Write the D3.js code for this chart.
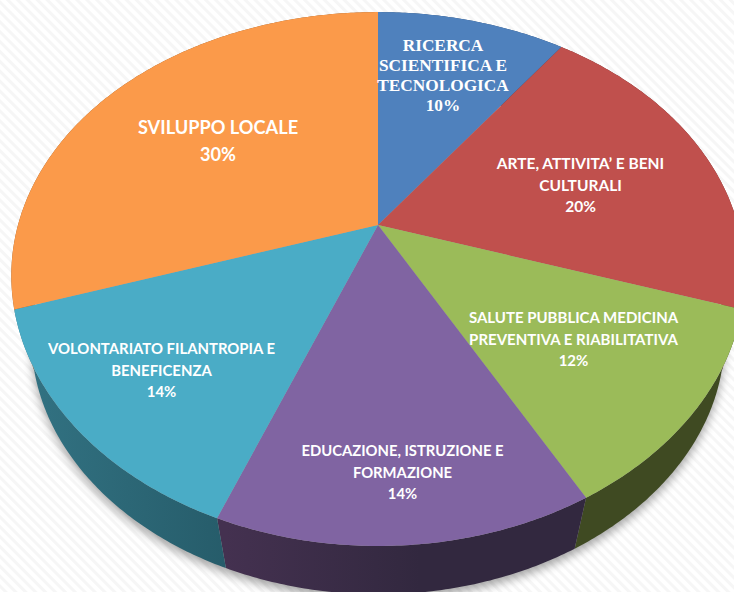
<!DOCTYPE html>
<html>
<head>
<meta charset="utf-8">
<script src="https://cdn.jsdelivr.net/npm/d3@7"></script>
<style>
  html, body { margin: 0; padding: 0; background: #fff; }
  svg { display: block; }
  text { fill: #fff; font-family: Lato, sans-serif; font-weight: 700; text-anchor: middle; }
  .serif text { font-family: "Liberation Serif", serif; }
</style>
</head>
<body>
<svg id="chart" width="734" height="592"></svg>
<script>
const categories = [
  "RICERCA SCIENTIFICA E TECNOLOGICA",
  "ARTE, ATTIVITA’ E BENI CULTURALI",
  "SALUTE PUBBLICA MEDICINA PREVENTIVA E RIABILITATIVA",
  "EDUCAZIONE, ISTRUZIONE E FORMAZIONE",
  "VOLONTARIATO FILANTROPIA E BENEFICENZA",
  "SVILUPPO LOCALE",
];
const values = [10, 20, 12, 14, 14, 30];
const topColors = ["#4f81bd", "#c0504d", "#9bbb59", "#8064a2", "#4aacc6", "#fb9a4a"];
const sideColors = [
  ["#2b4a70", "#2b4a70"],
  ["#6e2e2c", "#6e2e2c"],
  ["#3f4a22", "#3f4a22"],
  ["#443150", "#32283f"],
  ["#327282", "#265c6a"],
  ["#8f5728", "#8f5728"],
];
// label lines, one list per slice
const labelLines = [
  ["RICERCA", "SCIENTIFICA E", "TECNOLOGICA", "10%"],
  ["ARTE, ATTIVITA’ E BENI", "CULTURALI", "20%"],
  ["SALUTE PUBBLICA MEDICINA", "PREVENTIVA E RIABILITATIVA", "12%"],
  ["EDUCAZIONE, ISTRUZIONE E", "FORMAZIONE", "14%"],
  ["VOLONTARIATO FILANTROPIA E", "BENEFICENZA", "14%"],
  ["SVILUPPO LOCALE", "30%"],
];

const svg = d3.select("#chart");
const width = +svg.attr("width");
const height = +svg.attr("height");

// pie center on screen and the perspective of the tilted disc
const cx = 378, cy = 225;
const radiusX = 360, radiusY = 256, tilt = 0.2024, tiltX = 0.19;
// bottom rim is the top rim scaled and pushed down
const rimScale = 0.945, rimDrop = 66;

const project = (angle) => {
  const x = Math.sin(angle);
  const y = -Math.cos(angle);
  return [radiusX * x / (1 - tiltX * y), radiusY * y / (1 - tilt * y)];
};
const topPoint = (a) => {
  const [x, y] = project(a);
  return [cx + x, cy + y];
};
const bottomPoint = (a) => {
  const [x, y] = project(a);
  return [cx + x * rimScale, cy + y * rimScale + rimDrop];
};
const sample = (a0, a1) => {
  const n = Math.max(2, Math.ceil((a1 - a0) / 0.01));
  return d3.range(n + 1).map((i) => a0 + (a1 - a0) * i / n);
};

const line = d3.line();
const pie = d3.pie().sort(null);
const slices = pie(values);

const defs = svg.append("defs");

// faint diagonal stripes behind the pie
const pattern = defs.append("pattern")
  .attr("id", "stripes")
  .attr("width", 7).attr("height", 7)
  .attr("patternUnits", "userSpaceOnUse")
  .attr("patternTransform", "rotate(45)");
pattern.append("rect").attr("width", 7).attr("height", 7).attr("fill", "#ffffff");
pattern.append("rect").attr("width", 7).attr("height", 3).attr("fill", "#f6f6f6");

defs.append("filter").attr("id", "blur")
  .attr("x", "-10%").attr("y", "-10%").attr("width", "120%").attr("height", "120%")
  .append("feGaussianBlur").attr("stdDeviation", 5);

sideColors.forEach((c, i) => {
  const g = defs.append("linearGradient")
    .attr("id", `side${i}`)
    .attr("gradientUnits", "userSpaceOnUse")
    .attr("x1", i === 4 ? 30 : 226).attr("x2", i === 4 ? 226 : 420)
    .attr("y1", 0).attr("y2", 0);
  g.append("stop").attr("offset", 0).attr("stop-color", c[0]);
  g.append("stop").attr("offset", 1).attr("stop-color", c[1]);
});

svg.append("rect").attr("width", width).attr("height", height).attr("fill", "url(#stripes)");

// soft shadow under the lower rim
const fullCircle = sample(0, 2 * Math.PI);
svg.append("path")
  .attr("d", line(fullCircle.map(bottomPoint)) + "Z")
  .attr("transform", "translate(0,5)")
  .attr("fill", "#000")
  .attr("opacity", 0.35)
  .attr("filter", "url(#blur)");

// side walls first, the top faces cover whatever is hidden
svg.append("g").selectAll("path")
  .data(slices)
  .join("path")
  .attr("d", (d) => {
    const arc = sample(d.startAngle, d.endAngle);
    return line(arc.map(topPoint).concat(arc.slice().reverse().map(bottomPoint))) + "Z";
  })
  .attr("fill", (d, i) => `url(#side${i})`);

svg.append("g").selectAll("path")
  .data(slices)
  .join("path")
  .attr("d", (d) => {
    const arc = sample(d.startAngle, d.endAngle);
    return line([[cx, cy]].concat(arc.map(topPoint))) + "Z";
  })
  .attr("fill", (d, i) => topColors[i]);

// label anchors: x center, first baseline, line height, font size
const labelLayout = [
  { x: 443, y: 51, lh: 20, fs: 17.3 },
  { x: 580.5, y: 169, lh: 21.5, fs: 15.5 },
  { x: 573.5, y: 323, lh: 21.5, fs: 15 },
  { x: 402.5, y: 456, lh: 21.5, fs: 14.8 },
  { x: 161.5, y: 354, lh: 21.5, fs: 14.9 },
  { x: 218, y: 134, lh: 27, fs: 18.2 },
];

svg.append("g").selectAll("g")
  .data(labelLines)
  .join("g")
  .attr("class", (d, i) => (i === 0 ? "serif" : null))
  .each(function (lines, i) {
    const l = labelLayout[i];
    d3.select(this).selectAll("text")
      .data(lines)
      .join("text")
      .attr("x", l.x)
      .attr("y", (d, j) => l.y + j * l.lh)
      .attr("font-size", l.fs)
      .text((d) => d);
  });
</script>
</body>
</html>
